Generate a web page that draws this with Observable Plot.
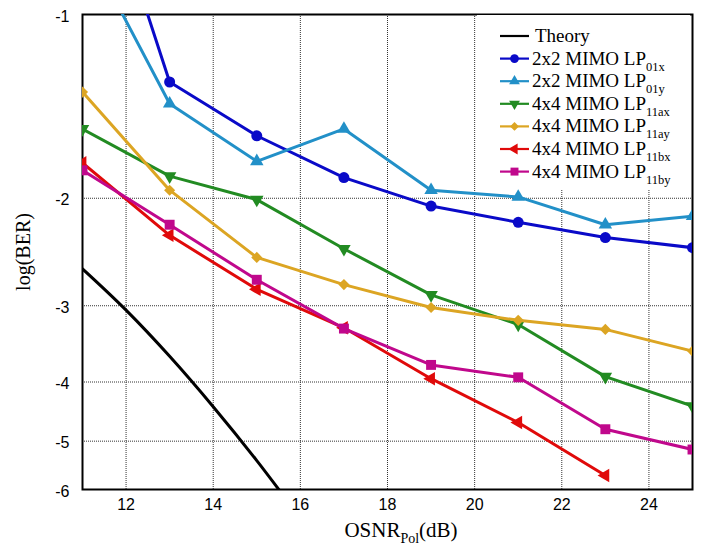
<!DOCTYPE html>
<html><head><meta charset="utf-8">
<script src="https://cdn.jsdelivr.net/npm/d3@7"></script>
<script src="https://cdn.jsdelivr.net/npm/@observablehq/plot@0.6"></script>
<style>
body{margin:0;background:#fff}
#chart{position:relative;width:704px;height:548px}
</style>
</head><body><div id="chart"></div>
<script>
// ---- data (log10 BER) ----
const osnr = [11, 13, 15, 17, 19, 21, 23, 25];
const theoryOsnr = [11, 12, 13, 14, 15, 16];
const theoryLogBER = [-2.61, -3.05, -3.63, -4.39, -5.38, -6.69];
const lp01x  = [-0.47, -1.29, -1.58, -1.85, -2.06, -2.19, -2.32, -2.41];
const lp01y  = [-0.75, -1.40, -1.74, -1.54, -1.94, -1.99, -2.21, -2.14];
const lp11ax = [-1.54, -1.84, -2.01, -2.42, -2.88, -3.22, -3.92, -4.38];
const lp11ay = [-1.34, -1.94, -2.50, -2.77, -3.02, -3.17, -3.28, -3.56];
const lp11bx = [-1.75, -2.30, -2.82, -3.26, -3.95, -4.66, -5.69];
const lp11by = [-1.80, -2.21, -2.72, -3.27, -3.75, -3.93, -4.78, -5.16];

const seriesLabels = ["2x2 MIMO LP", "2x2 MIMO LP", "4x4 MIMO LP", "4x4 MIMO LP", "4x4 MIMO LP", "4x4 MIMO LP"];
const seriesSubs = ["01x", "01y", "11ax", "11ay", "11bx", "11by"];
const seriesColors = ["#0a0ac8", "#2290c8", "#228b22", "#dca523", "#e00a0a", "#c0088c"];
const seriesSymbols = ["circle", "triangle", "triangle", "diamond2", "triangle", "square"];
const seriesRotate = [0, 0, 180, 0, -90, 0];
const seriesR = [5.5, 5, 5, 5, 5, 5.6];
const seriesValues = [lp01x, lp01y, lp11ax, lp11ay, lp11bx, lp11by];
const theoryLabel = "Theory";

const xTicks = [12, 14, 16, 18, 20, 22, 24];
const yTicks = [-1, -2, -3, -4, -5, -6];
const yGrid = [-2, -3, -4, -5];

// ---- build tables ----
const theory = theoryOsnr.map((x, i) => ({x, v: theoryLogBER[i]}));
const series = seriesValues.map((vals, k) => vals.map((v, i) => ({x: osnr[i], v, k})));
const Y = d => -d.v;

const gridStyle = {stroke: "#333", strokeOpacity: 1, strokeWidth: 1, strokeDasharray: "1,1"};

const marks = [
  Plot.ruleX(xTicks, gridStyle),
  Plot.ruleY(yGrid.map(t => -t), gridStyle),
  Plot.axisX(xTicks, {tickSize: 0, tickPadding: 9, fontSize: 16, label: null}),
  Plot.axisY(yTicks.map(t => -t), {tickSize: 0, tickPadding: 13, fontSize: 16, dy: 2, label: null, tickFormat: d => "-" + d}),
  Plot.frame({stroke: "black", strokeWidth: 2}),
  Plot.line(theory, {x: "x", y: Y, stroke: "black", strokeWidth: 3, curve: "monotone-x", clip: true})
];
series.forEach((s, k) => {
  marks.push(Plot.line(s, {x: "x", y: Y, stroke: seriesColors[k], strokeWidth: 3, clip: true}));
  marks.push(Plot.dot(s, {x: "x", y: Y, symbol: seriesSymbols[k], r: seriesR[k], fill: seriesColors[k], stroke: "none", rotate: seriesRotate[k], clip: true}));
});

const svg = Plot.plot({
  width: 704, height: 548,
  marginLeft: 82, marginRight: 12, marginTop: 14, marginBottom: 59,
  style: {fontFamily: "'Liberation Sans', Arial, sans-serif", fontSize: "16px", color: "black", background: "white"},
  x: {domain: [11, 25]},
  y: {type: "log", domain: [1, 6], reverse: true},
  marks
});

const g = d3.select(svg);
const serif = "'Liberation Serif', 'Times New Roman', serif";

// axis labels
const xl = g.append("text").attr("x", 401).attr("y", 537).attr("text-anchor", "middle")
  .attr("font-family", serif).attr("font-size", 21).attr("fill", "black");
xl.append("tspan").text("OSNR");
xl.append("tspan").attr("font-size", 14).attr("dy", 6).text("Pol");
xl.append("tspan").attr("dy", -6).text("(dB)");

g.append("text").attr("transform", "translate(30,252) rotate(-90)").attr("text-anchor", "middle")
  .attr("font-family", serif).attr("font-size", 20).attr("fill", "black").text("log(BER)");

// legend
const lg = g.append("g");
lg.append("rect").attr("x", 477).attr("y", 15).attr("width", 213).attr("height", 174).attr("fill", "white");
const symMap = {circle: d3.symbolCircle, triangle: d3.symbolTriangle, diamond2: d3.symbolDiamond2, square: d3.symbolSquare};
const rows = [{label: theoryLabel, sub: "", color: "black", symbol: null, rot: 0, r: 0}]
  .concat(seriesLabels.map((l, k) => ({label: l, sub: seriesSubs[k], color: seriesColors[k], symbol: seriesSymbols[k], rot: seriesRotate[k], r: seriesR[k] * 0.8})));
rows.forEach((row, i) => {
  const cy = 36 + i * 22.6;
  lg.append("line").attr("x1", 500).attr("x2", 529).attr("y1", cy).attr("y2", cy)
    .attr("stroke", row.color).attr("stroke-width", 2.2);
  if (row.symbol) {
    lg.append("path").attr("d", d3.symbol(symMap[row.symbol], Math.PI * row.r * row.r)())
      .attr("transform", `translate(514.5,${cy}) rotate(${row.rot})`).attr("fill", row.color);
  }
  const t = lg.append("text").attr("x", i === 0 ? 535 : 532).attr("y", cy + 6).attr("text-anchor", "start")
    .attr("font-family", serif).attr("font-size", 19).attr("fill", "black");
  t.append("tspan").text(row.label);
  if (row.sub) t.append("tspan").attr("font-size", 12.5).attr("dy", 6).text(row.sub);
});

document.getElementById("chart").appendChild(svg);
</script>
</body></html>
